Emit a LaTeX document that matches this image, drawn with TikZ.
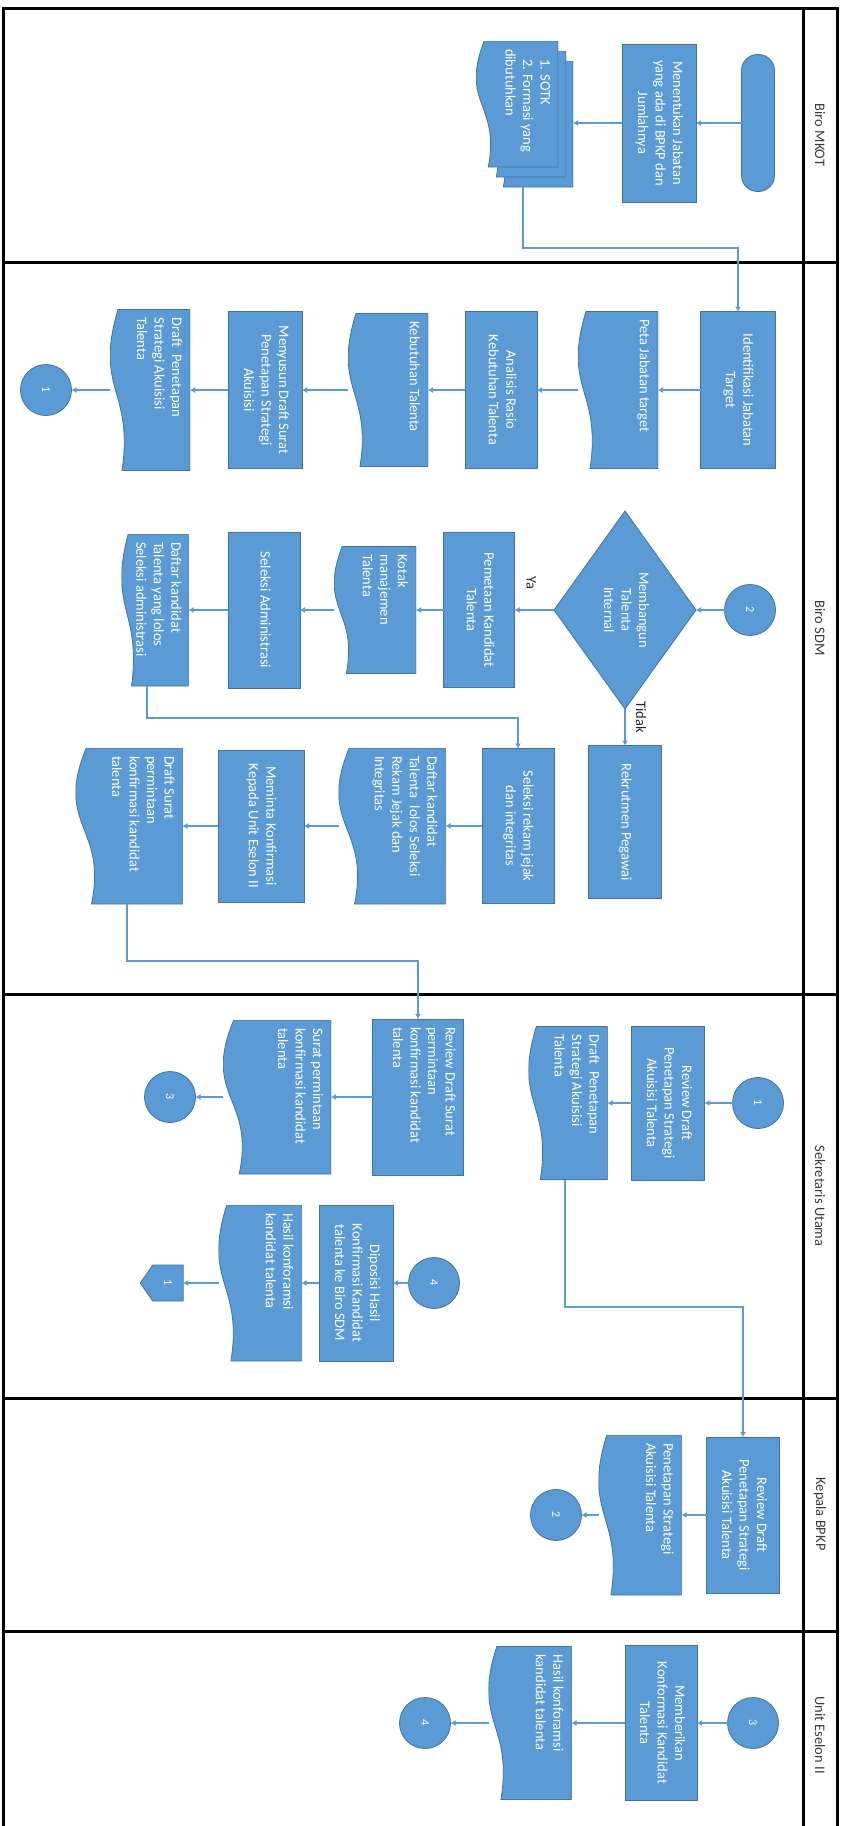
\documentclass[tikz,border=0pt]{standalone}
\usepackage{fontspec}
\setmainfont{Carlito}
\usepackage{graphicx}
\usetikzlibrary{arrows.meta,shapes.geometric,shapes.symbols,calc}
\definecolor{boxblue}{HTML}{5B9BD5}
\definecolor{boxedge}{HTML}{41719C}
\definecolor{linkblue}{HTML}{5B9BD5}
\definecolor{labgray}{HTML}{3A3A3A}
\newcommand\rt[1]{\rotatebox{-90}{\begin{tabular}{@{}c@{}}#1\end{tabular}}}
\newcommand\dt[3]{\rotatebox{-90}{\parbox[c][#2pt][t]{#1pt}{\raggedright #3}}}
\tikzset{
  base/.style={inner sep=0pt, outer sep=0pt, text=white, font=\fontsize{14.5}{17.5}\selectfont},
  sz/.style n args={2}{minimum width=#1, minimum height=#2},
  proc/.style={base, rectangle, draw=boxedge, line width=0.8pt, fill=boxblue},
  pill/.style={base, rectangle, rounded corners=16pt, draw=boxedge, line width=0.8pt, fill=boxblue, minimum width=33, minimum height=137},
  doc/.style={base, rectangle, path picture={
    \filldraw[fill=boxblue, draw=boxedge, line width=0.8pt]
      (path picture bounding box.north east)
      -- ($(path picture bounding box.north west)!0.1!(path picture bounding box.north east)$)
      .. controls ($(path picture bounding box.west)!-0.2!(path picture bounding box.east)$)
           and ($(path picture bounding box.west)!0.3!(path picture bounding box.east)$)
      .. ($(path picture bounding box.south west)!0.15!(path picture bounding box.south east)$)
      -- (path picture bounding box.south east) -- cycle;}},
  conn/.style={base, circle, draw=boxedge, line width=0.8pt, fill=boxblue, minimum size=51, font=\fontsize{12}{14}\selectfont},
  offp/.style={base, signal, signal to=west, signal pointer angle=110, draw=boxedge, line width=0.8pt, fill=boxblue, minimum width=43, minimum height=36, font=\fontsize{12}{14}\selectfont},
  dia/.style={base, diamond, draw=boxedge, line width=0.8pt, fill=boxblue, minimum width=142, minimum height=198},
  lab/.style={inner sep=0pt, text=black!85, font=\fontsize{14.5}{16}\selectfont},
  lane/.style={inner sep=0pt, text=labgray, font=\fontsize{14.5}{16}\selectfont},
  frame/.style={draw=black, line width=3pt},
  arr/.style={draw=linkblue, line width=1.5pt, -{Latex[length=5pt,width=6pt]}}
}
\begin{document}
\begin{tikzpicture}[x=1pt, y=-1pt]
\useasboundingbox (0,0) rectangle (841,1826);
% frame
\draw[frame] (3,1840) -- (3,8) -- (837,8) -- (837,1840);
\draw[frame] (803,8) -- (803,1840);
\foreach \yy in {262,994,1398,1631} \draw[frame] (3,\yy) -- (837,\yy);
% lane labels
\node[lane] (lmkot) at (820,135) {\rotatebox{-90}{Biro MKOT}};
\node[lane] (lsdm) at (820,628) {\rotatebox{-90}{Biro SDM}};
\node[lane] (lsek) at (820,1196) {\rotatebox{-90}{Sekretaris Utama}};
\node[lane] (lkep) at (820,1514) {\rotatebox{-90}{Kepala BPKP}};
\node[lane] (lunit) at (820,1735) {\rotatebox{-90}{Unit Eselon II}};

% Biro MKOT
\node[pill] (start) at (758,123) {};
\node[proc, sz={74}{158}] (p1) at (659,123) {\rt{Menentukan Jabatan\\yang ada di BPKP dan\\Jumlahnya}};
\node[doc, sz={82}{126}] (sotk3) at (532,124) {};
\node[doc, sz={82}{126}] (sotk2) at (525,114) {};
\node[doc, sz={82}{126}] (sotk) at (517,104) {\dt{110}{66}{\hspace*{10pt}1. SOTK\\\hspace*{10pt}2. Formasi yang\\dibutuhkan}};
\draw[arr] (start) -- (p1);
\draw[arr] (p1.west) -- (p1.west -| sotk3.east);

% Biro SDM row 1
\node[proc, sz={75}{157}] (idt) at (738,390) {\rt{Identifikasi Jabatan\\Target}};
\node[doc, sz={80}{157}] (peta) at (618,390) {\dt{141}{64}{Peta Jabatan target}};
\node[proc, sz={72}{157}] (anl) at (501,390) {\rt{Analisis Rasio\\Kebutuhan Talenta}};
\node[doc, sz={80}{153}] (keb) at (388,390) {\dt{137}{64}{Kebutuhan Talenta}};
\node[proc, sz={74}{157}] (meny) at (265,390) {\rt{Menyusun Draft Surat\\Penetapan Strategi\\Akuisisi}};
\node[doc, sz={80}{161}] (drf) at (150,390) {\dt{145}{64}{Draft\enspace Penetapan\\Strategi Akuisisi\\Talenta}};
\node[conn] (c1) at (46,390) {\rotatebox{-90}{1}};
\coordinate (k1) at (738,248);
\draw[arr] ([xshift=-9pt]sotk3.south) |- (k1) -- (idt.north);
\draw[arr] (idt) -- (peta);
\draw[arr] (peta) -- (anl);
\draw[arr] (anl) -- (keb);
\draw[arr] (keb) -- (meny);
\draw[arr] (meny) -- (drf);
\draw[arr] (drf) -- (c1);

% Biro SDM row 2
\node[conn] (c2) at (750,610) {\rotatebox{-90}{2}};
\node[dia] (dia) at (625,610) {\rt{Membangun\\Talenta\\Internal}};
\node[proc, sz={71}{155}] (pem) at (479,610) {\rt{Pemetaan Kandidat\\Talenta}};
\node[doc, sz={82}{127}] (kot) at (375,610) {\dt{111}{66}{Kotak\\manajemen\\Talenta}};
\node[proc, sz={72}{156}] (sel) at (264,610) {\rt{Seleksi Administrasi}};
\node[doc, sz={67}{152}] (dft) at (155,610) {\dt{136}{53}{Daftar kandidat\\Talenta yang lolos\\Seleksi administrasi}};
\draw[arr] (c2) -- (dia);
\draw[arr] (dia) -- (pem) node[lab, midway, xshift=-3pt, yshift=27pt] (ya) {\rotatebox{-90}{Ya}};
\draw[arr] (pem) -- (kot);
\draw[arr] (kot) -- (sel);
\draw[arr] (sel) -- (dft);

% Biro SDM row 3
\node[proc, sz={73}{153}] (rek) at (625,822) {\rt{Rekrutmen Pegawai}};
\draw[arr] (dia) -- (rek) node[lab, midway, xshift=16pt, yshift=10pt] (tidak) {\rotatebox{-90}{Tidak}};
\node[proc, sz={72}{155}] (srj) at (518,826) {\rt{Seleksi rekam jejak\\dan integritas}};
\node[doc, sz={107}{156}] (dkl) at (392,826) {\dt{140}{91}{Daftar kandidat\\Talenta\enspace lolos Seleksi\\Rekam Jejak dan\\Integritas}};
\node[proc, sz={86}{152}] (mem) at (261,826) {\rt{Meminta Konfirmasi\\Kepada Unit Eselon II}};
\node[doc, sz={107}{156}] (dsp) at (129,826) {\dt{140}{91}{Draft Surat\\permintaan\\konfirmasi kandidat\\talenta}};
\coordinate (k2) at (518,718);
\draw[arr] ([xshift=-8pt]dft.south) |- (k2) -- (srj.north);
\draw[arr] (srj) -- (dkl);
\draw[arr] (dkl) -- (mem);
\draw[arr] (mem) -- (dsp);

% Sekretaris Utama
\node[conn] (c1b) at (758,1103) {\rotatebox{-90}{1}};
\node[proc, sz={73}{154}] (rvd) at (668,1103) {\rt{Review Draft\\Penetapan Strategi\\Akuisisi Talenta}};
\node[doc, sz={79}{153}] (dpt) at (568,1103) {\dt{137}{63}{Draft\enspace Penetapan\\Strategi Akuisisi\\Talenta}};
\draw[arr] (c1b) -- (rvd);
\draw[arr] (rvd) -- (dpt);
\node[proc, sz={91}{156}] (rds) at (418,1097) {\dt{140}{75}{Review Draft Surat\\permintaan\\konfirmasi kandidat\\talenta}};
\node[doc, sz={108}{154}] (spk) at (277,1097) {\dt{138}{92}{Surat permintaan\\konfirmasi kandidat\\talenta}};
\node[conn] (c3) at (170,1097) {\rotatebox{-90}{3}};
\coordinate (k3) at (418,961);
\draw[arr] ([xshift=-2pt]dsp.south) |- (k3) -- (rds.north);
\draw[arr] (rds) -- (spk);
\draw[arr] (spk) -- (c3);
\node[conn] (c4) at (434,1283) {\rotatebox{-90}{4}};
\node[proc, sz={74}{156}] (dip) at (356,1283) {\rt{Diposisi Hasil\\Konfirmasi Kandidat\\talenta ke Biro SDM}};
\node[doc, sz={83}{156}] (hk1) at (260,1283) {\dt{140}{67}{Hasil konforamsi\\kandidat talenta}};
\node[offp] (off1) at (168,1283) {\rotatebox{-90}{1}};
\draw[arr] (c4) -- (dip);
\draw[arr] (dip) -- (hk1);
\draw[arr] (hk1) -- (off1);

% Kepala BPKP
\node[proc, sz={73}{156}] (rvk) at (743,1515) {\rt{Review Draft\\Penetapan Strategi\\Akuisisi Talenta}};
\node[doc, sz={83}{160}] (pst) at (640,1515) {\dt{144}{67}{Penetapan Strategi\\Akuisisi Talenta}};
\node[conn] (c2b) at (556,1515) {\rotatebox{-90}{2}};
\coordinate (k4) at (743,1307);
\draw[arr] ([xshift=-3pt]dpt.south) |- (k4) -- (rvk.north);
\draw[arr] (rvk) -- (pst);
\draw[arr] (pst) -- (c2b);

% Unit Eselon II
\node[conn] (c3b) at (753,1723) {\rotatebox{-90}{3}};
\node[proc, sz={72}{155}] (mbk) at (661,1723) {\rt{Memberikan\\Konformasi Kandidat\\Talenta}};
\node[doc, sz={83}{153}] (hk2) at (530,1723) {\dt{137}{67}{Hasil konforamsi\\kandidat talenta}};
\node[conn] (c4b) at (425,1723) {\rotatebox{-90}{4}};
\draw[arr] (c3b) -- (mbk);
\draw[arr] (mbk) -- (hk2);
\draw[arr] (hk2) -- (c4b);
\end{tikzpicture}
\end{document}
